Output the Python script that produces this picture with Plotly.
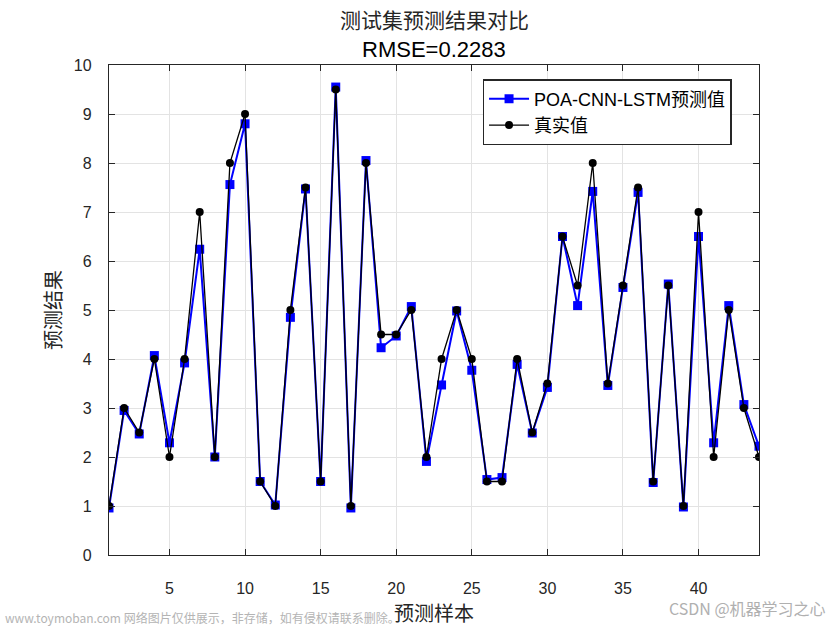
import plotly.graph_objects as go

samples = list(range(1, 45))
predicted = [0.96, 2.95, 2.47, 4.07, 2.29, 3.92, 6.24, 2.00, 7.56, 8.80,
             1.50, 1.02, 4.85, 7.47, 1.50, 9.55, 0.96, 8.05, 4.23, 4.47,
             5.07, 1.91, 3.47, 4.98, 3.77, 1.54, 1.58, 3.89, 2.49, 3.42,
             6.50, 5.09, 7.42, 3.46, 5.46, 7.40, 1.48, 5.53, 0.98, 6.50,
             2.29, 5.09, 3.07, 2.22]
actual = [1, 3, 2.5, 4, 2, 4, 7, 2, 8, 9,
          1.5, 1, 5, 7.5, 1.5, 9.5, 1, 8, 4.5, 4.5,
          5, 2, 4, 5, 4, 1.5, 1.5, 4, 2.5, 3.5,
          6.5, 5.5, 8, 3.5, 5.5, 7.5, 1.5, 5.5, 1, 7,
          2, 5, 3, 2]
x_ticks = [5, 10, 15, 20, 25, 30, 35, 40]
y_ticks = list(range(0, 11))

fig = go.Figure()
fig.add_trace(go.Scatter(x=samples, y=predicted, mode="lines+markers",
                         name="POA-CNN-LSTM预测值",
                         line=dict(color="#0000ff", width=2),
                         marker=dict(symbol="square", size=9, color="#0000ff")))
fig.add_trace(go.Scatter(x=samples, y=actual, mode="lines+markers",
                         name="真实值",
                         line=dict(color="#000000", width=1.3),
                         marker=dict(symbol="circle", size=8, color="#000000")))

axis_common = dict(showgrid=True, gridcolor="#e3e3e3", gridwidth=1,
                   showline=True, linecolor="#262626", linewidth=1.3, mirror="ticks",
                   ticks="inside", ticklen=6, tickcolor="#262626", zeroline=False,
                   tickfont=dict(family="Liberation Sans, Arial", size=16, color="#262626"))

fig.update_xaxes(range=[1, 44], tickvals=x_ticks, ticklabelstandoff=19, **axis_common)
fig.update_yaxes(range=[0, 10], tickvals=y_ticks, ticklabelstandoff=13, **axis_common)

cjk = "Noto Sans CJK SC"
fig.add_annotation(text="测试集预测结果对比", xref="paper", yref="paper", x=0.5, y=1,
                   yshift=46, showarrow=False, yanchor="middle",
                   font=dict(family=cjk, size=21, color="#262626"))
fig.add_annotation(text="RMSE=0.2283", xref="paper", yref="paper", x=0.5, y=1,
                   yshift=16, showarrow=False, yanchor="middle",
                   font=dict(family="Liberation Sans, Arial", size=22, color="#000000"))
fig.add_annotation(text="预测结果", xref="paper", yref="paper", x=0, y=0.5,
                   xshift=-57, textangle=-90, showarrow=False,
                   xanchor="center", yanchor="middle",
                   font=dict(family=cjk, size=20, color="#262626"))

fig.add_annotation(text="www.toymoban.com 网络图片仅供展示，非存储，如有侵权请联系删除。",
                   xref="paper", yref="paper", x=0, y=0, xshift=-106, yshift=-62,
                   xanchor="left", yanchor="middle",
                   showarrow=False, font=dict(family=cjk, size=12, color="#b4b4b4"))
fig.add_annotation(text="预测样本", xref="paper", yref="paper", x=0.5, y=0,
                   yshift=-57, showarrow=False, xanchor="center", yanchor="middle",
                   font=dict(family=cjk, size=20, color="#262626"))
fig.add_annotation(text="CSDN @机器学习之心", xref="paper", yref="paper", x=1, y=0,
                   xshift=69, yshift=-53, xanchor="right", yanchor="middle", showarrow=False,
                   font=dict(family=cjk, size=16, color="#b0b0b0"))

fig.update_layout(width=840, height=630,
                  margin=dict(l=109, r=81, t=65, b=75),
                  paper_bgcolor="white", plot_bgcolor="white",
                  showlegend=True,
                  legend=dict(x=0.575, y=0.971, xanchor="left", yanchor="top",
                              bgcolor="white", bordercolor="#262626", borderwidth=1.3,
                              font=dict(family="Liberation Sans, Noto Sans CJK SC", size=18, color="#000000"),
                              tracegroupgap=0, itemwidth=40))

fig.write_html("out.html", config={"displayModeBar": False},
               post_script="document.body.style.margin='0';")
